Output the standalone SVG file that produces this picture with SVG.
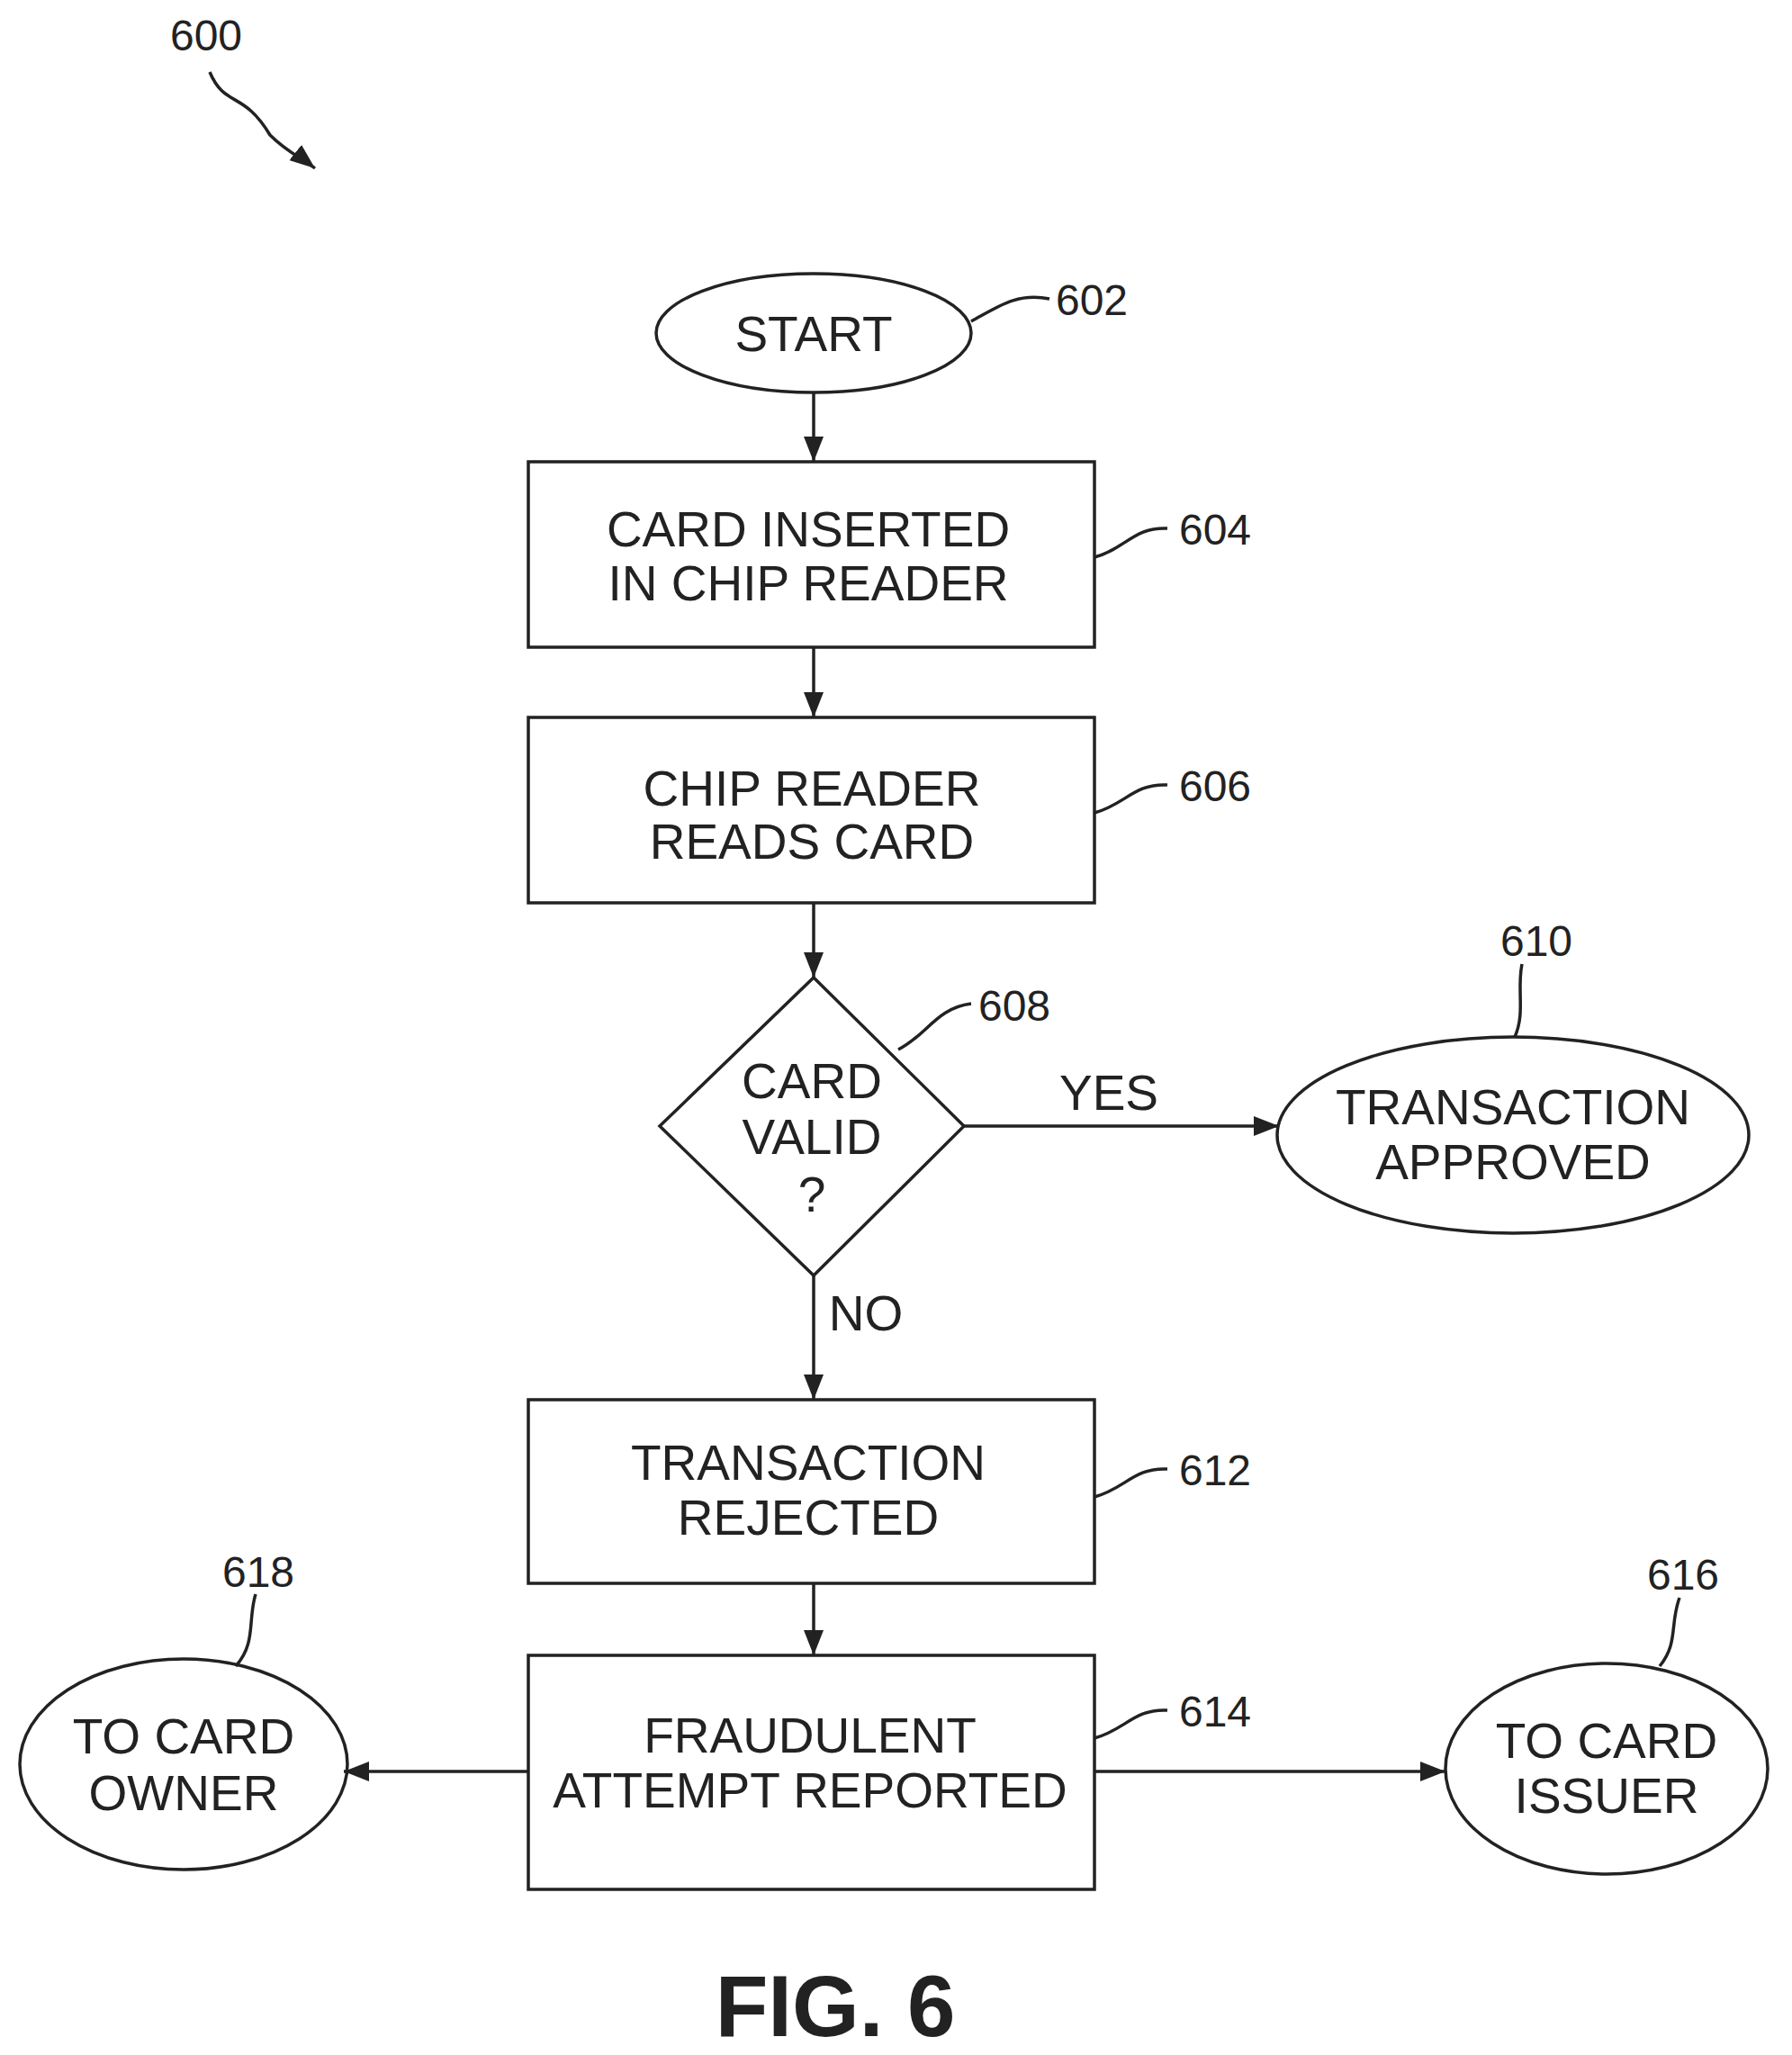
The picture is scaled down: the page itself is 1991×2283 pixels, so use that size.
<svg xmlns="http://www.w3.org/2000/svg" width="1991" height="2283" viewBox="0 0 1991 2283">
<style>
.s{fill:none;stroke:#222;stroke-width:3.5}
.t{font-family:"Liberation Sans",Arial,sans-serif;font-size:55px;fill:#222;text-anchor:middle}
.l{font-family:"Liberation Sans",Arial,sans-serif;font-size:48px;fill:#222;text-anchor:middle}
</style>
<defs><marker id="a" markerWidth="10" markerHeight="8" refX="10" refY="4" orient="auto" markerUnits="userSpaceOnUse" viewBox="0 0 10 8" style="overflow:visible"><path d="M-18,-7 L10,4 L-18,15 Z" transform="translate(0,0)" fill="#222"/></marker>
<marker id="b" markerWidth="28" markerHeight="22" refX="28" refY="11" orient="auto" markerUnits="userSpaceOnUse"><path d="M0,0 L28,11 L0,22 Z" fill="#222"/></marker></defs>
<rect width="1991" height="2283" fill="#fff"/>
<text class="l" x="229" y="56">600</text>
<g id="connectors">
<path class="s" d="M233,80 C250,120 270,100 300,150 C320,170 335,175 350,187" marker-end="url(#b)"/>
<line class="s" x1="904" y1="436" x2="904" y2="513" marker-end="url(#b)"/>
<line class="s" x1="904" y1="719" x2="904" y2="797" marker-end="url(#b)"/>
<line class="s" x1="904" y1="1003" x2="904" y2="1086" marker-end="url(#b)"/>
<line class="s" x1="1071" y1="1251" x2="1421" y2="1251" marker-end="url(#b)"/>
<line class="s" x1="904" y1="1417" x2="904" y2="1555" marker-end="url(#b)"/>
<line class="s" x1="904" y1="1759" x2="904" y2="1839" marker-end="url(#b)"/>
<line class="s" x1="587" y1="1968" x2="382" y2="1968" marker-end="url(#b)"/>
<line class="s" x1="1216" y1="1968" x2="1606" y2="1968" marker-end="url(#b)"/>
<text class="t" x="1232" y="1233">YES</text>
<text class="t" x="962" y="1478">NO</text>
</g>
<g id="n602"><ellipse class="s" cx="904" cy="370" rx="175" ry="66"/><text class="t" x="904" y="390">START</text>
<path class="s" d="M1079,357 C1110,340 1130,325 1166,332"/><text class="l" x="1213" y="350">602</text></g>
<g id="n604"><rect class="s" x="587" y="513" width="629" height="206"/><text class="t" x="898" y="607">CARD INSERTED</text><text class="t" x="898" y="667">IN CHIP READER</text>
<path class="s" d="M1216,619 C1250,610 1260,585 1297,587"/><text class="l" x="1350" y="605">604</text></g>
<g id="n606"><rect class="s" x="587" y="797" width="629" height="206"/><text class="t" x="902" y="895">CHIP READER</text><text class="t" x="902" y="954">READS CARD</text>
<path class="s" d="M1216,903 C1250,894 1260,870 1297,872"/><text class="l" x="1350" y="890">606</text></g>
<g id="n608"><polygon class="s" points="904,1086 1071,1251 904,1417 733,1251"/><text class="t" x="902" y="1220">CARD</text><text class="t" x="902" y="1282">VALID</text><text class="t" x="902" y="1346">?</text>
<path class="s" d="M998,1166 C1030,1150 1040,1120 1079,1115"/><text class="l" x="1127" y="1134">608</text></g>
<g id="n610"><ellipse class="s" cx="1681" cy="1261" rx="262" ry="109"/><text class="t" x="1681" y="1249">TRANSACTION</text><text class="t" x="1681" y="1310">APPROVED</text>
<path class="s" d="M1691,1071 C1685,1100 1695,1125 1683,1152"/><text class="l" x="1707" y="1062">610</text></g>
<g id="n612"><rect class="s" x="587" y="1555" width="629" height="204"/><text class="t" x="898" y="1644">TRANSACTION</text><text class="t" x="898" y="1705">REJECTED</text>
<path class="s" d="M1216,1663 C1250,1654 1260,1630 1297,1632"/><text class="l" x="1350" y="1650">612</text></g>
<g id="n614"><rect class="s" x="587" y="1839" width="629" height="260"/><text class="t" x="900" y="1947">FRAUDULENT</text><text class="t" x="900" y="2008">ATTEMPT REPORTED</text>
<path class="s" d="M1216,1931 C1250,1922 1260,1898 1297,1900"/><text class="l" x="1350" y="1918">614</text></g>
<g id="n618"><ellipse class="s" cx="204" cy="1960" rx="182" ry="117"/><text class="t" x="204" y="1948">TO CARD</text><text class="t" x="204" y="2011">OWNER</text>
<path class="s" d="M284,1771 C275,1800 285,1825 262,1851"/><text class="l" x="287" y="1763">618</text></g>
<g id="n616"><ellipse class="s" cx="1785" cy="1965" rx="179" ry="117"/><text class="t" x="1785" y="1953">TO CARD</text><text class="t" x="1785" y="2014">ISSUER</text>
<path class="s" d="M1866,1775 C1855,1805 1865,1825 1844,1851"/><text class="l" x="1870" y="1766">616</text></g>
<text x="928" y="2262" style="font-family:'Liberation Sans',Arial,sans-serif;font-weight:bold;font-size:96px;fill:#222;text-anchor:middle">FIG. 6</text>
</svg>
